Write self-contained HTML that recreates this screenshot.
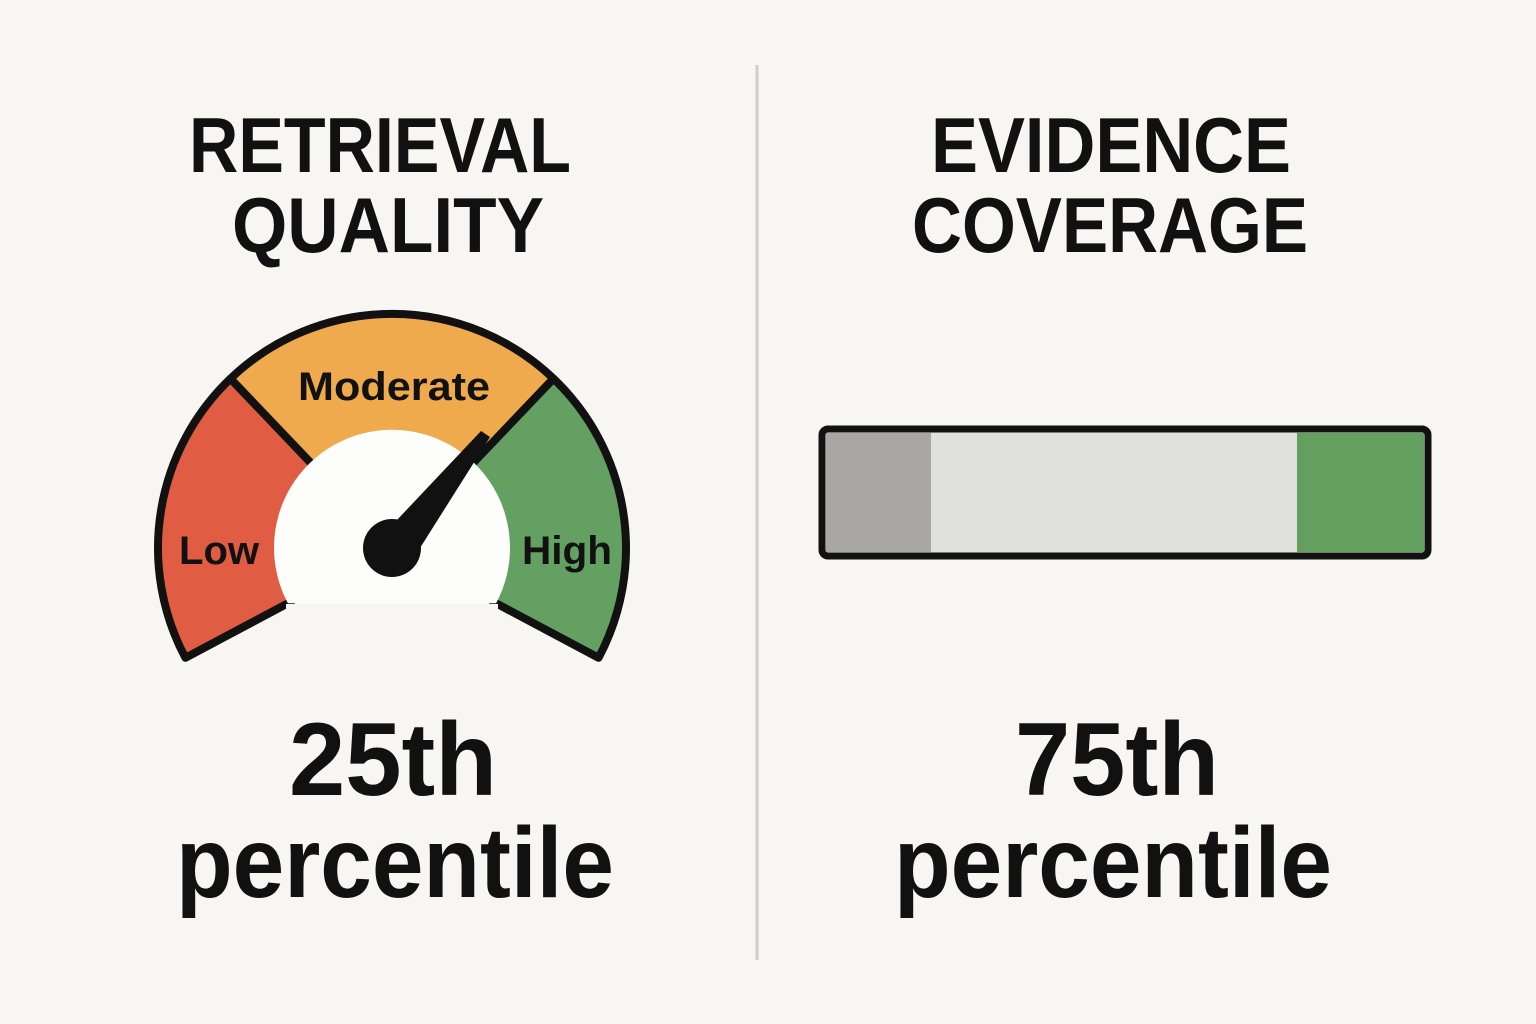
<!DOCTYPE html>
<html><head><style>
html,body{margin:0;padding:0;background:#f7f6f2;}
svg{display:block;}
text{font-family:"Liberation Sans",sans-serif;font-weight:bold;fill:#111;}
</style></head><body>
<svg width="1536" height="1024" viewBox="0 0 1536 1024">
<rect width="1536" height="1024" fill="#f7f6f2"/>
<line x1="757" y1="65" x2="757" y2="960" stroke="#cfcdc8" stroke-width="3"/>
<text x="380" y="172" font-size="78" text-anchor="middle" textLength="382" lengthAdjust="spacingAndGlyphs">RETRIEVAL</text>
<text x="388" y="252" font-size="78" text-anchor="middle" textLength="312" lengthAdjust="spacingAndGlyphs">QUALITY</text>
<text x="1111" y="172" font-size="78" text-anchor="middle" textLength="360" lengthAdjust="spacingAndGlyphs">EVIDENCE</text>
<text x="1110" y="252" font-size="78" text-anchor="middle" textLength="396" lengthAdjust="spacingAndGlyphs">COVERAGE</text>
<g stroke="#111" stroke-width="8" stroke-linejoin="round">
<path d="M291.3,601.5 L185.4,657.8 A234,234 0 0 1 230.5,378.6 L313.3,465.5 Z" fill="#e05d43"/>
<path d="M313.3,465.5 L230.5,378.6 A234,234 0 0 1 553.5,378.6 L470.7,465.5 Z" fill="#eeaa4c"/>
<path d="M470.7,465.5 L553.5,378.6 A234,234 0 0 1 598.6,657.8 L492.7,601.5 Z" fill="#64a062"/>
</g>
<path d="M287.9,603.3 A118,118 0 1 1 496.1,603.3 Z" fill="#fdfdfb"/>
<rect x="286" y="604" width="212" height="10" fill="#f7f6f2"/>
<text x="219" y="564" font-size="40" text-anchor="middle" textLength="80" lengthAdjust="spacingAndGlyphs">Low</text>
<text x="394" y="400" font-size="40" text-anchor="middle" textLength="192" lengthAdjust="spacingAndGlyphs">Moderate</text>
<text x="567" y="564" font-size="40" text-anchor="middle" textLength="90" lengthAdjust="spacingAndGlyphs">High</text>
<polygon points="481,431 490,437 420,548 380,538" fill="#111"/>
<circle cx="392" cy="548" r="29" fill="#111"/>
<rect x="822" y="429" width="606" height="127" rx="6" fill="#e0e0dc" stroke="#111" stroke-width="7"/>
<rect x="826" y="433" width="105" height="119" fill="#a8a7a3"/>
<rect x="1297" y="433" width="127" height="119" fill="#63a060"/>
<text x="393" y="795" font-size="104" text-anchor="middle" textLength="208" lengthAdjust="spacingAndGlyphs">25th</text>
<text x="395" y="897" font-size="100" text-anchor="middle" textLength="438" lengthAdjust="spacingAndGlyphs">percentile</text>
<text x="1117" y="795" font-size="104" text-anchor="middle" textLength="204" lengthAdjust="spacingAndGlyphs">75th</text>
<text x="1113" y="897" font-size="100" text-anchor="middle" textLength="438" lengthAdjust="spacingAndGlyphs">percentile</text>
</svg>
</body></html>
